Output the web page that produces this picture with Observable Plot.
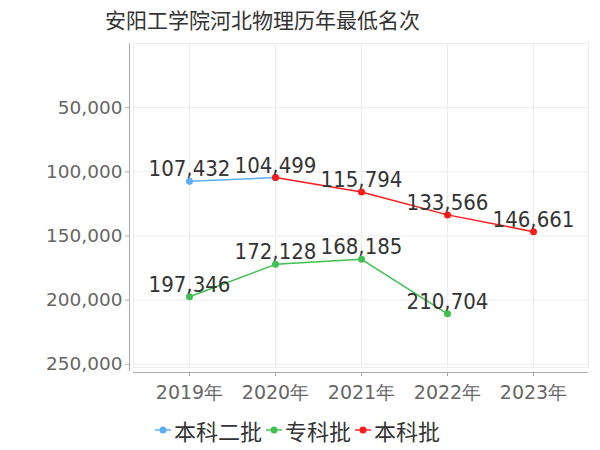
<!DOCTYPE html>
<html>
<head>
<meta charset="utf-8">
<script src="https://cdn.jsdelivr.net/npm/d3@7"></script>
<script src="https://cdn.jsdelivr.net/npm/@observablehq/plot@0.6"></script>
<style>
  body { margin: 0; background: #fff; width: 600px; height: 450px; overflow: hidden; font-family: "DejaVu Sans", "Noto Sans CJK SC", sans-serif; }
  #title { height: 35px; padding-left: 105px; font-size: 21px; line-height: 38px; color: #333; font-family: "Noto Sans CJK SC", sans-serif; white-space: nowrap; }
  #legend { display: flex; align-items: center; padding-left: 155px; height: 40px; font-size: 22px; color: #333; font-family: "Noto Sans CJK SC", sans-serif; }
  .item { display: flex; align-items: center; margin-right: 4px; }
  .item svg { margin-right: 3px; }
  #chart svg { display: block; }
</style>
</head>
<body>
<div id="title">安阳工学院河北物理历年最低名次</div>
<div id="chart"></div>
<div id="legend"></div>
<script>
const years = ["2019年", "2020年", "2021年", "2022年", "2023年"];
const seriesNames = ["本科二批", "专科批", "本科批"];
const seriesColors = ["#58aff5", "#3ec14e", "#ff1a1a"];
const benke2Years = ["2019年", "2020年"];
const benke2Values = [107432, 104499];
const zhuankeYears = ["2019年", "2020年", "2021年", "2022年"];
const zhuankeValues = [197346, 172128, 168185, 210704];
const benkeYears = ["2020年", "2021年", "2022年", "2023年"];
const benkeValues = [104499, 115794, 133566, 146661];
const yTicks = [50000, 100000, 150000, 200000, 250000];

const data = [];
benke2Years.forEach((y, i) => data.push({series: seriesNames[0], year: y, value: benke2Values[i]}));
zhuankeYears.forEach((y, i) => data.push({series: seriesNames[1], year: y, value: zhuankeValues[i]}));
benkeYears.forEach((y, i) => data.push({series: seriesNames[2], year: y, value: benkeValues[i]}));

// one label per distinct point (overlapping identical labels drawn once)
const seen = new Set();
const labelData = data.filter(d => {
  const k = d.year + "|" + d.value;
  if (seen.has(k)) return false;
  seen.add(k);
  return true;
});

const fmt = d3.format(",");

const plot = Plot.plot({
  width: 600,
  height: 375,
  marginTop: 8,
  marginBottom: 43,
  marginLeft: 133,
  marginRight: 12,
  style: {fontFamily: "DejaVu Sans, sans-serif", fontSize: "18px", color: "#666", background: "#fff", overflow: "visible"},
  x: {type: "point", domain: years, padding: 0.64, axis: null},
  y: {domain: [0, 252500], reverse: true, axis: null},
  color: {domain: seriesNames, range: seriesColors},
  marks: [
    Plot.frame({stroke: "#ececec"}),
    Plot.gridX(years, {x: d => d, stroke: "#ececec", strokeOpacity: 1}),
    Plot.gridY(yTicks, {y: d => d, stroke: "#ececec", strokeOpacity: 1}),
    Plot.axisY(yTicks, {y: d => d, label: null, tickFormat: fmt, tickSize: 4, tickPadding: 3, dx: -4, stroke: "#aaa", fill: "#666", fontSize: 18.5}),
    Plot.axisX({label: null, tickSize: 4, dy: 5, tickPadding: 9, stroke: "#aaa", fill: "#666", fontSize: 19}),
    Plot.line(data, {x: "year", y: "value", z: "series", stroke: "series", strokeWidth: 1.5}),
    Plot.dot(data, {x: "year", y: "value", fill: "series", r: 3.5}),
    Plot.text(labelData, {x: "year", y: "value", text: d => fmt(d.value), dy: -5, lineAnchor: "bottom", fill: "#333", fontSize: 22, fontFamily: "DejaVu Sans Condensed, sans-serif"})
  ]
});
document.getElementById("chart").appendChild(plot);

// y axis line and x axis line
const svg = d3.select(plot);
svg.append("line").attr("x1", 129.5).attr("x2", 129.5).attr("y1", 8).attr("y2", 336).attr("stroke", "#aaa");
svg.append("line").attr("x1", 133).attr("x2", 588).attr("y1", 337.5).attr("y2", 337.5).attr("stroke", "#aaa");

const legend = document.getElementById("legend");
seriesNames.forEach((name, i) => {
  const item = document.createElement("div");
  item.className = "item";
  item.innerHTML = `<svg width="16" height="10"><line x1="0" x2="16" y1="5" y2="5" stroke="${seriesColors[i]}" stroke-width="2" opacity="0.7"/><circle cx="8" cy="5" r="3.5" fill="${seriesColors[i]}"/></svg><span>${name}</span>`;
  legend.appendChild(item);
});
</script>
</body>
</html>
